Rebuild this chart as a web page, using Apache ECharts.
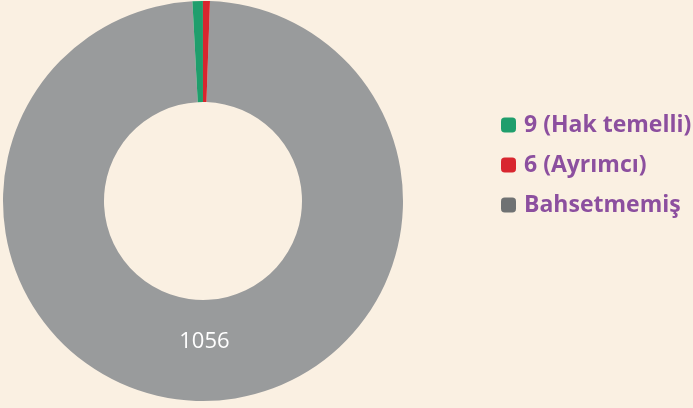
<!DOCTYPE html>
<html>
<head>
<meta charset="utf-8">
<script src="https://cdn.jsdelivr.net/npm/echarts@6/dist/echarts.min.js"></script>
<style>
    html, body { margin: 0; padding: 0; background: #faf0e2; }
    #main { width: 693px; height: 408px; }
</style>
</head>
<body>
<div id="main"></div>
<script type="text/javascript">
    // dilim adları ve değerleri
    const names = ['Bahsetmemiş', '9 (Hak temelli)', '6 (Ayrımcı)'];
    const values = [1056, 9, 6];
    const sliceColors = ['#999b9c', '#1f9e6c', '#d8262f'];
    const legendOrder = ['9 (Hak temelli)', '6 (Ayrımcı)', 'Bahsetmemiş'];
    const legendColors = ['#1f9e6c', '#d8262f', '#6f7273'];

    let seriesData = [];
    for (let i = 0; i < names.length; i++) {
        seriesData.push({
            name: names[i],
            value: values[i],
            itemStyle: { color: sliceColors[i] },
            label: { show: i === 0 }
        });
    }

    let legendData = [];
    for (let i = 0; i < legendOrder.length; i++) {
        legendData.push({ name: legendOrder[i], itemStyle: { color: legendColors[i] } });
    }

    let myChart = echarts.init(document.getElementById('main'));
    let option = {
        backgroundColor: '#faf0e2',
        animation: false,
        legend: {
            orient: 'vertical',
            left: 496,
            top: 105,
            icon: 'roundRect',
            itemWidth: 15,
            itemHeight: 15,
            itemGap: 10,
            data: legendData,
            textStyle: {
                color: '#8c4f9f',
                fontFamily: 'Open Sans',
                fontWeight: 'bold',
                fontSize: 23,
                lineHeight: 30,
                padding: [0, 0, 0, 3]
            }
        },
        series: [{
            type: 'pie',
            center: [203, 201],
            radius: [99, 200],
            startAngle: 88,
            clockwise: true,
            avoidLabelOverlap: false,
            label: {
                position: 'inside',
                formatter: '{c}\n ',
                color: '#ffffff',
                fontFamily: 'Open Sans',
                fontSize: 22,
                lineHeight: 24
            },
            labelLine: { show: false },
            data: seriesData
        }]
    };
    myChart.setOption(option);
</script>
</body>
</html>
